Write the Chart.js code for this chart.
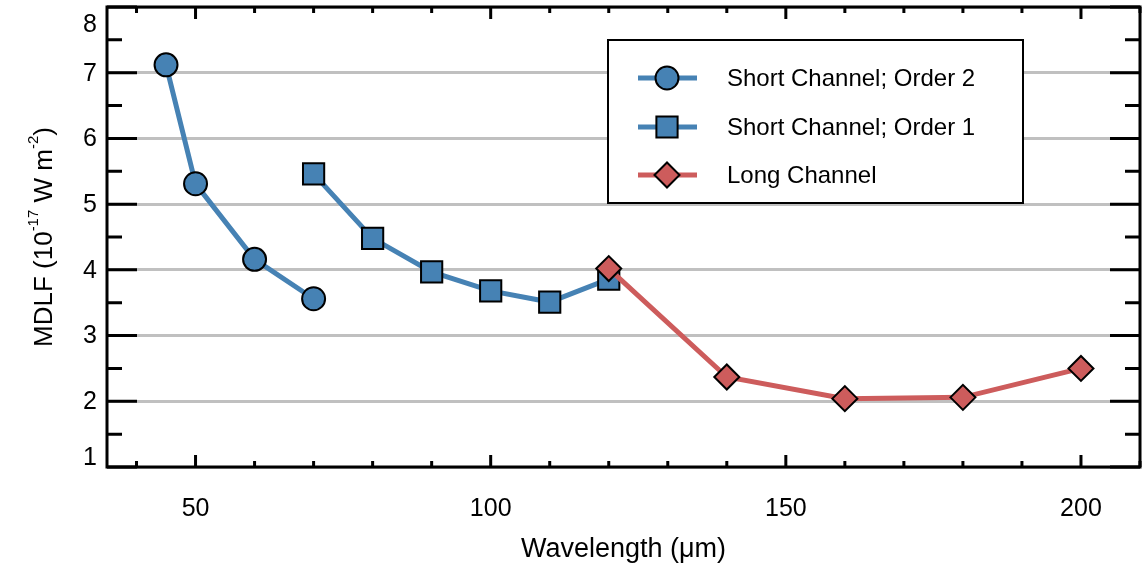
<!DOCTYPE html>
<html>
<head>
<meta charset="utf-8">
<script src="https://cdn.jsdelivr.net/npm/chart.js@4.4.1/dist/chart.umd.min.js"></script>
<style>
  html, body { margin: 0; padding: 0; background: #fff; }
  #wrap { width: 1146px; height: 567px; }
</style>
</head>
<body>
<div id="wrap"><canvas id="mdlfChart"></canvas></div>
<script>
const xTicks = [50, 100, 150, 200];
const yTicks = [1, 2, 3, 4, 5, 6, 7, 8];

const order2Wave = [45, 50, 60, 70];
const order2Mdlf = [7.12, 5.31, 4.16, 3.56];

const order1Wave = [70, 80, 90, 100, 110, 120];
const order1Mdlf = [5.46, 4.48, 3.97, 3.68, 3.51, 3.86];

const longWave = [120, 140, 160, 180, 200];
const longMdlf = [4.02, 2.37, 2.04, 2.06, 2.5];

const BLUE = "#4682b4";
const RED = "#cd5c5c";
const FONT = "'Liberation Sans', Arial, Helvetica, sans-serif";

const toPoints = (xs, ys) => xs.map((x, i) => ({ x: x, y: ys[i] }));

const legendItems = [
    { label: "Short Channel; Order 2", color: BLUE, pointStyle: "circle", radius: 11.5 },
    { label: "Short Channel; Order 1", color: BLUE, pointStyle: "rect", radius: 15 },
    { label: "Long Channel", color: RED, pointStyle: "rectRot", radius: 12.5 },
];

function drawMarker(ctx, item, x, y) {
    ctx.save();
    ctx.fillStyle = item.color;
    ctx.strokeStyle = "#000";
    ctx.lineWidth = 2;
    Chart.helpers.drawPoint(ctx, {
        pointStyle: item.pointStyle,
        radius: item.radius,
        rotation: 0,
        borderWidth: 2,
    }, x, y);
    ctx.restore();
}

const framePlugin = {
    id: "frame",
    afterDraw(chart) {
        const { ctx, chartArea: a, scales } = chart;
        const xs = scales.x;
        const ys = scales.y;

        ctx.save();
        ctx.strokeStyle = "#000";
        ctx.lineWidth = 3;
        ctx.lineCap = "butt";
        ctx.strokeRect(a.left, a.top, a.right - a.left, a.bottom - a.top);

        // y ticks (major + half-step minor), both sides, pointing inward
        ctx.beginPath();
        for (let v = yTicks[0]; v <= yTicks[yTicks.length - 1]; v += 0.5) {
            const py = ys.getPixelForValue(v);
            const len = Number.isInteger(v) ? 30 : 15;
            ctx.moveTo(a.left, py);
            ctx.lineTo(a.left + len, py);
            ctx.moveTo(a.right, py);
            ctx.lineTo(a.right - len, py);
        }
        // x ticks every 10, major at labelled values
        for (let v = 40; v <= 210; v += 10) {
            const px = xs.getPixelForValue(v);
            const len = xTicks.includes(v) ? 12 : 6;
            ctx.moveTo(px, a.bottom);
            ctx.lineTo(px, a.bottom - len);
            ctx.moveTo(px, a.top);
            ctx.lineTo(px, a.top + len);
        }
        ctx.stroke();

        // y tick labels, kept inside the frame at the ends
        ctx.fillStyle = "#000";
        ctx.font = "25px " + FONT;
        ctx.textAlign = "right";
        ctx.textBaseline = "middle";
        yTicks.forEach((v) => {
            let py = ys.getPixelForValue(v);
            py = Math.min(Math.max(py, a.top + 17), a.bottom - 10);
            ctx.fillText(String(v), a.left - 10, py + 1);
        });

        // x title
        ctx.textAlign = "center";
        ctx.font = "27px " + FONT;
        ctx.fillText("Wavelength (\u03bcm)", (a.left + a.right) / 2, 550);

        // y title with superscripts
        const parts = [
            { t: "MDLF (10", sup: false },
            { t: "-17", sup: true },
            { t: " W m", sup: false },
            { t: "-2", sup: true },
            { t: ")", sup: false },
        ];
        const big = "26px " + FONT;
        const small = "15px " + FONT;
        let total = 0;
        parts.forEach((p) => {
            ctx.font = p.sup ? small : big;
            p.w = ctx.measureText(p.t).width;
            total += p.w;
        });
        ctx.translate(44, (a.top + a.bottom) / 2);
        ctx.rotate(-Math.PI / 2);
        ctx.textAlign = "left";
        let cx = -total / 2;
        parts.forEach((p) => {
            ctx.font = p.sup ? small : big;
            ctx.fillText(p.t, cx, p.sup ? -10 : 1);
            cx += p.w;
        });
        ctx.restore();

        // legend box
        ctx.save();
        ctx.fillStyle = "#fff";
        ctx.fillRect(608, 40, 415, 163);
        ctx.strokeStyle = "#000";
        ctx.lineWidth = 2;
        ctx.strokeRect(608, 40, 415, 163);
        const rows = [78, 127, 175];
        legendItems.forEach((item, i) => {
            const y = rows[i];
            ctx.strokeStyle = item.color;
            ctx.lineWidth = 5;
            ctx.beginPath();
            ctx.moveTo(638, y);
            ctx.lineTo(697, y);
            ctx.stroke();
            drawMarker(ctx, item, 667, y);
            ctx.fillStyle = "#000";
            ctx.font = "24px " + FONT;
            ctx.textAlign = "left";
            ctx.textBaseline = "middle";
            ctx.fillText(item.label, 727, y + 1);
        });
        ctx.restore();
    },
};

new Chart(document.getElementById("mdlfChart"), {
    type: "scatter",

    data: {
        datasets: [
            {
                label: legendItems[0].label,
                data: toPoints(order2Wave, order2Mdlf),
                showLine: true,
                borderColor: BLUE,
                borderWidth: 5,
                backgroundColor: BLUE,
                pointStyle: "circle",
                pointRadius: 11.5,
                pointBorderColor: "#000",
                pointBorderWidth: 2,
                order: 2,
            },
            {
                label: legendItems[1].label,
                data: toPoints(order1Wave, order1Mdlf),
                showLine: true,
                borderColor: BLUE,
                borderWidth: 5,
                backgroundColor: BLUE,
                pointStyle: "rect",
                pointRadius: 15,
                pointBorderColor: "#000",
                pointBorderWidth: 2,
                order: 1,
            },
            {
                label: legendItems[2].label,
                data: toPoints(longWave, longMdlf),
                showLine: true,
                borderColor: RED,
                borderWidth: 5,
                backgroundColor: RED,
                pointStyle: "rectRot",
                pointRadius: 12.5,
                pointBorderColor: "#000",
                pointBorderWidth: 2,
                order: 0,
            },
        ],
    },

    options: {
        responsive: true,
        maintainAspectRatio: false,
        animation: false,
        devicePixelRatio: 1,

        layout: {
            autoPadding: false,
            padding: { top: 7, right: 6, bottom: 0, left: 0 },
        },

        plugins: {
            legend: { display: false },
            tooltip: { enabled: false },
        },

        scales: {
            x: {
                type: "linear",
                min: 35,
                max: 210,
                afterBuildTicks: (s) => { s.ticks = xTicks.map((v) => ({ value: v })); },
                afterFit: (s) => {
                    s.height = 100;
                    s.paddingLeft = 0;
                    s.paddingRight = 0;
                },
                grid: { display: false, drawTicks: false },
                border: { display: false },
                ticks: {
                    color: "#000",
                    padding: 27,
                    maxRotation: 0,
                    font: { family: FONT, size: 25 },
                },
            },

            y: {
                type: "linear",
                min: 1,
                max: 8,
                afterBuildTicks: (s) => { s.ticks = yTicks.map((v) => ({ value: v })); },
                afterFit: (s) => {
                    s.width = 107;
                    s.paddingTop = 0;
                    s.paddingBottom = 0;
                },
                grid: {
                    color: "#c0c0c0",
                    lineWidth: 3,
                    drawTicks: false,
                },
                border: { display: false },
                ticks: { display: false },
            },
        },
    },

    plugins: [framePlugin],
});
</script>
</body>
</html>
